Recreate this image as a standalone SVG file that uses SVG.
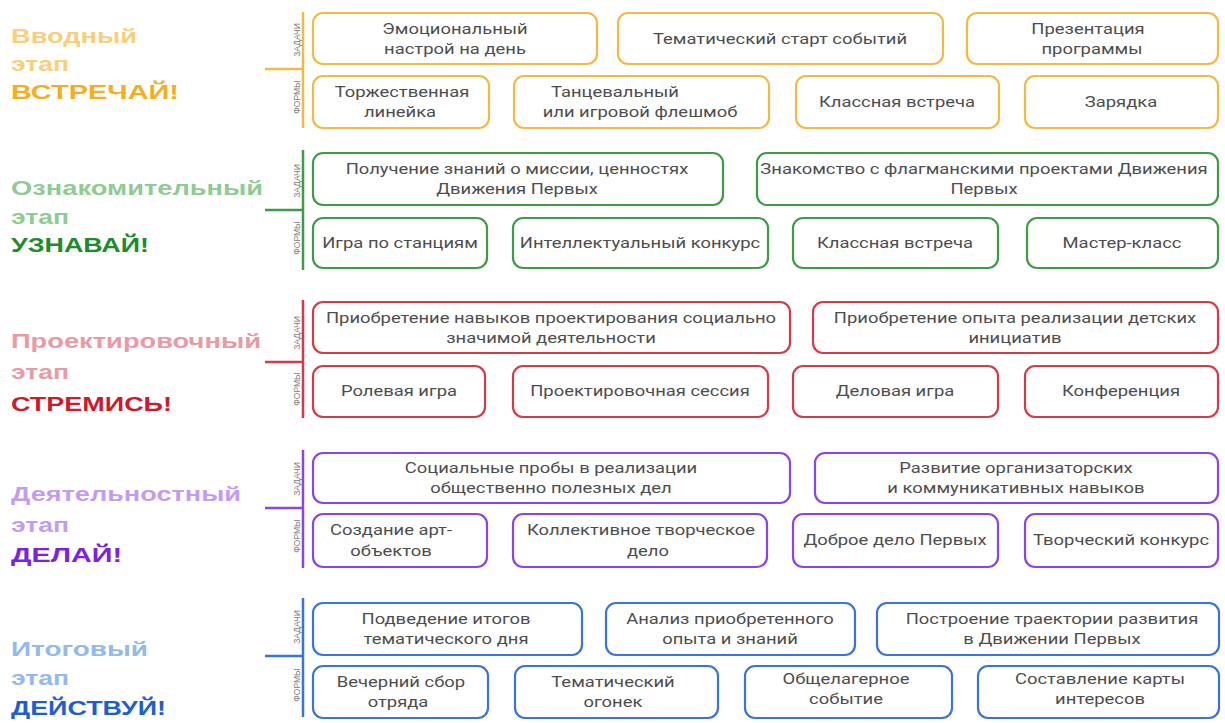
<svg xmlns="http://www.w3.org/2000/svg" width="1225" height="723" viewBox="0 0 1225 723">
<style>
.bx{fill:#fff;stroke-width:2.2}
.o{stroke:#F2BA45}.g{stroke:#3F9B47}.r{stroke:#D43B4A}.p{stroke:#8E44E3}.u{stroke:#3A74D6}
.b{font-family:Roboto,"Liberation Sans",sans-serif;font-size:14.5px;fill:#4d4d4d;text-anchor:middle}
.h{font-family:"Liberation Sans",Arial,sans-serif;font-weight:bold;font-size:21px}
.lab{font-family:"Liberation Sans",Arial,sans-serif;font-size:8.5px;fill:#7a7a7a;text-anchor:middle}
.ln{fill:none;stroke-width:2.5}
</style>

<!-- Section titles -->
<g id="title1">
<text class="h" x="11" y="43" fill="#F8CF7A" textLength="126" lengthAdjust="spacingAndGlyphs">Вводный</text>
<text class="h" x="11" y="71" fill="#F8CF7A" textLength="58" lengthAdjust="spacingAndGlyphs">этап</text>
<text class="h" x="11" y="99" fill="#F4AE1F" textLength="168" lengthAdjust="spacingAndGlyphs">ВСТРЕЧАЙ!</text>
</g>
<g id="title2">
<text class="h" x="11" y="195" fill="#8FCB93" textLength="252" lengthAdjust="spacingAndGlyphs">Ознакомительный</text>
<text class="h" x="11" y="224" fill="#8FCB93" textLength="58" lengthAdjust="spacingAndGlyphs">этап</text>
<text class="h" x="11" y="252" fill="#1E8B2C" textLength="138" lengthAdjust="spacingAndGlyphs">УЗНАВАЙ!</text>
</g>
<g id="title3">
<text class="h" x="11" y="348" fill="#E99AA4" textLength="250" lengthAdjust="spacingAndGlyphs">Проектировочный</text>
<text class="h" x="11" y="379" fill="#E99AA4" textLength="58" lengthAdjust="spacingAndGlyphs">этап</text>
<text class="h" x="11" y="411" fill="#CE1B2B" textLength="161" lengthAdjust="spacingAndGlyphs">СТРЕМИСЬ!</text>
</g>
<g id="title4">
<text class="h" x="11" y="501" fill="#C39CF0" textLength="230" lengthAdjust="spacingAndGlyphs">Деятельностный</text>
<text class="h" x="11" y="532" fill="#C39CF0" textLength="58" lengthAdjust="spacingAndGlyphs">этап</text>
<text class="h" x="11" y="562" fill="#7E22DC" textLength="111" lengthAdjust="spacingAndGlyphs">ДЕЛАЙ!</text>
</g>
<g id="title5">
<text class="h" x="11" y="656" fill="#94B9EE" textLength="137" lengthAdjust="spacingAndGlyphs">Итоговый</text>
<text class="h" x="11" y="685" fill="#94B9EE" textLength="58" lengthAdjust="spacingAndGlyphs">этап</text>
<text class="h" x="11" y="715" fill="#1F5FCB" textLength="155" lengthAdjust="spacingAndGlyphs">ДЕЙСТВУЙ!</text>
</g>

<!-- Connectors (brackets) -->
<g id="connectors">
<path class="ln o" d="M303 12V128M265 69H303"/>
<path class="ln g" d="M303 150V270M265 210H303"/>
<path class="ln r" d="M303 300V418M265 362H303"/>
<path class="ln p" d="M303 450V568M265 508H303"/>
<path class="ln u" d="M303 598V717M265 656H303"/>
</g>

<!-- Side labels -->
<g id="labels">
<text class="lab" transform="translate(300 40) rotate(-90)">ЗАДАЧИ</text>
<text class="lab" transform="translate(300 97) rotate(-90)">ФОРМЫ</text>
<text class="lab" transform="translate(300 181) rotate(-90)">ЗАДАЧИ</text>
<text class="lab" transform="translate(300 238) rotate(-90)">ФОРМЫ</text>
<text class="lab" transform="translate(300 333) rotate(-90)">ЗАДАЧИ</text>
<text class="lab" transform="translate(300 389) rotate(-90)">ФОРМЫ</text>
<text class="lab" transform="translate(300 479) rotate(-90)">ЗАДАЧИ</text>
<text class="lab" transform="translate(300 536) rotate(-90)">ФОРМЫ</text>
<text class="lab" transform="translate(300 627) rotate(-90)">ЗАДАЧИ</text>
<text class="lab" transform="translate(300 685) rotate(-90)">ФОРМЫ</text>
</g>

<!-- Section 1 -->
<g id="s1-t1"><rect class="bx o" x="313" y="13" width="284" height="51" rx="10"/>
<text class="b" transform="translate(455 34) scale(1.27 1)">Эмоциональный</text>
<text class="b" transform="translate(455 54) scale(1.27 1)">настрой на день</text></g>
<g id="s1-t2"><rect class="bx o" x="618" y="13" width="325" height="51" rx="10"/>
<text class="b" transform="translate(780 44) scale(1.27 1)">Тематический старт событий</text></g>
<g id="s1-t3"><rect class="bx o" x="967" y="13" width="251" height="51" rx="10"/>
<text class="b" transform="translate(1088 34) scale(1.27 1)">Презентация</text>
<text class="b" transform="translate(1092 54) scale(1.27 1)">программы</text></g>
<g id="s1-f1"><rect class="bx o" x="313" y="76" width="176" height="52" rx="10"/>
<text class="b" transform="translate(402 97) scale(1.27 1)">Торжественная</text>
<text class="b" transform="translate(400 117) scale(1.27 1)">линейка</text></g>
<g id="s1-f2"><rect class="bx o" x="514" y="76" width="255" height="52" rx="10"/>
<text class="b" transform="translate(615 97) scale(1.27 1)">Танцевальный</text>
<text class="b" transform="translate(640 117) scale(1.27 1)">или игровой флешмоб</text></g>
<g id="s1-f3"><rect class="bx o" x="796" y="76" width="203" height="52" rx="10"/>
<text class="b" transform="translate(897 107) scale(1.27 1)">Классная встреча</text></g>
<g id="s1-f4"><rect class="bx o" x="1025" y="76" width="193" height="52" rx="10"/>
<text class="b" transform="translate(1121 107) scale(1.27 1)">Зарядка</text></g>

<!-- Section 2 -->
<g id="s2-t1"><rect class="bx g" x="313" y="153" width="410" height="52" rx="10"/>
<text class="b" transform="translate(517 174) scale(1.27 1)">Получение знаний о миссии, ценностях</text>
<text class="b" transform="translate(517 194) scale(1.27 1)">Движения Первых</text></g>
<g id="s2-t2"><rect class="bx g" x="757" y="153" width="461" height="52" rx="10"/>
<text class="b" transform="translate(984 174) scale(1.27 1)">Знакомство с флагманскими проектами Движения</text>
<text class="b" transform="translate(984 194) scale(1.27 1)">Первых</text></g>
<g id="s2-f1"><rect class="bx g" x="313" y="218" width="174" height="50" rx="10"/>
<text class="b" transform="translate(400 248) scale(1.27 1)">Игра по станциям</text></g>
<g id="s2-f2"><rect class="bx g" x="513" y="218" width="255" height="50" rx="10"/>
<text class="b" transform="translate(640 248) scale(1.27 1)">Интеллектуальный конкурс</text></g>
<g id="s2-f3"><rect class="bx g" x="793" y="218" width="205" height="50" rx="10"/>
<text class="b" transform="translate(895 248) scale(1.27 1)">Классная встреча</text></g>
<g id="s2-f4"><rect class="bx g" x="1027" y="218" width="191" height="50" rx="10"/>
<text class="b" transform="translate(1122 248) scale(1.27 1)">Мастер-класс</text></g>

<!-- Section 3 -->
<g id="s3-t1"><rect class="bx r" x="313" y="302" width="477" height="51" rx="10"/>
<text class="b" transform="translate(551 323) scale(1.27 1)">Приобретение навыков проектирования социально</text>
<text class="b" transform="translate(551 343) scale(1.27 1)">значимой деятельности</text></g>
<g id="s3-t2"><rect class="bx r" x="813" y="302" width="405" height="51" rx="10"/>
<text class="b" transform="translate(1015 323) scale(1.27 1)">Приобретение опыта реализации детских</text>
<text class="b" transform="translate(1015 343) scale(1.27 1)">инициатив</text></g>
<g id="s3-f1"><rect class="bx r" x="313" y="366" width="172" height="51" rx="10"/>
<text class="b" transform="translate(399 396) scale(1.27 1)">Ролевая игра</text></g>
<g id="s3-f2"><rect class="bx r" x="513" y="366" width="255" height="51" rx="10"/>
<text class="b" transform="translate(640 396) scale(1.27 1)">Проектировочная сессия</text></g>
<g id="s3-f3"><rect class="bx r" x="793" y="366" width="205" height="51" rx="10"/>
<text class="b" transform="translate(895 396) scale(1.27 1)">Деловая игра</text></g>
<g id="s3-f4"><rect class="bx r" x="1025" y="366" width="193" height="51" rx="10"/>
<text class="b" transform="translate(1121 396) scale(1.27 1)">Конференция</text></g>

<!-- Section 4 -->
<g id="s4-t1"><rect class="bx p" x="313" y="453" width="477" height="50" rx="10"/>
<text class="b" transform="translate(551 473) scale(1.27 1)">Социальные пробы в реализации</text>
<text class="b" transform="translate(551 493) scale(1.27 1)">общественно полезных дел</text></g>
<g id="s4-t2"><rect class="bx p" x="815" y="453" width="403" height="50" rx="10"/>
<text class="b" transform="translate(1016 473) scale(1.27 1)">Развитие организаторских</text>
<text class="b" transform="translate(1016 493) scale(1.27 1)">и коммуникативных навыков</text></g>
<g id="s4-f1"><rect class="bx p" x="313" y="514" width="174" height="53" rx="10"/>
<text class="b" transform="translate(391 535) scale(1.27 1)">Создание арт-</text>
<text class="b" transform="translate(391 556) scale(1.27 1)">объектов</text></g>
<g id="s4-f2"><rect class="bx p" x="513" y="514" width="254" height="53" rx="10"/>
<text class="b" transform="translate(641 535) scale(1.27 1)">Коллективное творческое</text>
<text class="b" transform="translate(648 556) scale(1.27 1)">дело</text></g>
<g id="s4-f3"><rect class="bx p" x="793" y="514" width="205" height="53" rx="10"/>
<text class="b" transform="translate(895 545) scale(1.27 1)">Доброе дело Первых</text></g>
<g id="s4-f4"><rect class="bx p" x="1025" y="514" width="193" height="53" rx="10"/>
<text class="b" transform="translate(1121 545) scale(1.27 1)">Творческий конкурс</text></g>

<!-- Section 5 -->
<g id="s5-t1"><rect class="bx u" x="313" y="603" width="269" height="52" rx="10"/>
<text class="b" transform="translate(446 624) scale(1.27 1)">Подведение итогов</text>
<text class="b" transform="translate(446 644) scale(1.27 1)">тематического дня</text></g>
<g id="s5-t2"><rect class="bx u" x="606" y="603" width="249" height="52" rx="10"/>
<text class="b" transform="translate(730 624) scale(1.27 1)">Анализ приобретенного</text>
<text class="b" transform="translate(730 644) scale(1.27 1)">опыта и знаний</text></g>
<g id="s5-t3"><rect class="bx u" x="877" y="603" width="342" height="52" rx="10"/>
<text class="b" transform="translate(1052 624) scale(1.27 1)">Построение траектории развития</text>
<text class="b" transform="translate(1052 644) scale(1.27 1)">в Движении Первых</text></g>
<g id="s5-f1"><rect class="bx u" x="313" y="666" width="175" height="52" rx="10"/>
<text class="b" transform="translate(401 687) scale(1.27 1)">Вечерний сбор</text>
<text class="b" transform="translate(398 707) scale(1.27 1)">отряда</text></g>
<g id="s5-f2"><rect class="bx u" x="515" y="666" width="203" height="52" rx="10"/>
<text class="b" transform="translate(613 687) scale(1.27 1)">Тематический</text>
<text class="b" transform="translate(613 707) scale(1.27 1)">огонек</text></g>
<g id="s5-f3"><rect class="bx u" x="745" y="666" width="207" height="52" rx="10"/>
<text class="b" transform="translate(846 684) scale(1.27 1)">Общелагерное</text>
<text class="b" transform="translate(846 704) scale(1.27 1)">событие</text></g>
<g id="s5-f4"><rect class="bx u" x="978" y="666" width="241" height="52" rx="10"/>
<text class="b" transform="translate(1100 684) scale(1.27 1)">Составление карты</text>
<text class="b" transform="translate(1100 704) scale(1.27 1)">интересов</text></g>
</svg>
